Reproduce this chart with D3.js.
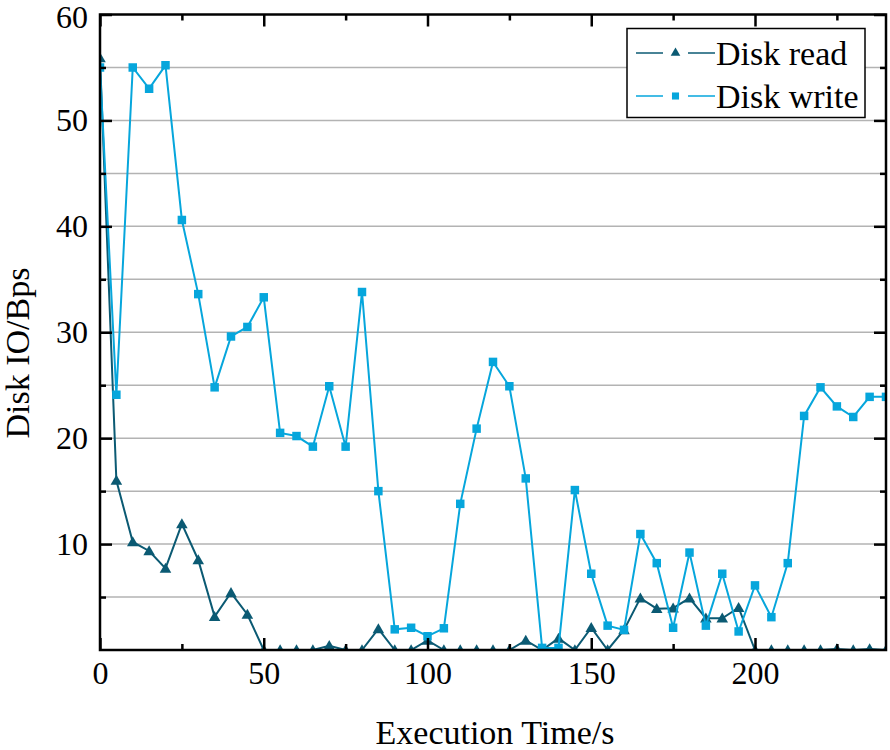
<!DOCTYPE html>
<html>
<head>
<meta charset="utf-8">
<script src="https://cdn.jsdelivr.net/npm/d3@7"></script>
<style>
  html, body { margin: 0; padding: 0; background: #fff; }
  svg { display: block; }
  text { font-family: "Liberation Serif", "Times New Roman", serif; fill: #000; }
</style>
</head>
<body>
<svg id="chart" width="890" height="750"></svg>
<script>
// ---- data ----
const times = [0,5,10,15,20,25,30,35,40,45,50,55,60,65,70,75,80,85,90,95,100,105,110,115,120,125,130,135,140,145,150,155,160,165,170,175,180,185,190,195,200,205,210,215,220,225,230,235,240];
const diskRead = [55.9,16.0,10.2,9.35,7.7,11.9,8.5,3.15,5.4,3.35,0,0,0,0,0.4,0,0,2.0,0,0,0.9,0,0,0,0,0,0.9,0,1.1,0,2.1,0,1.9,4.9,3.9,3.95,4.9,3.0,3.0,4.0,0,0,0,0,0,0.1,0,0.1,0];
const diskWrite = [55.0,24.1,55.0,53.0,55.2,40.6,33.6,24.8,29.6,30.5,33.3,20.5,20.2,19.2,24.9,19.2,33.8,15.0,1.95,2.1,1.3,2.05,13.8,20.9,27.2,24.9,16.2,0.2,0.2,15.1,7.2,2.3,1.9,10.95,8.2,2.1,9.2,2.3,7.2,1.75,6.1,3.1,8.2,22.1,24.8,23.0,22.0,23.9,23.9];
const seriesNames = ["Disk read", "Disk write"];
const xMajorTicks = [0,50,100,150,200];
const xMinorTicks = [25,75,125,175,225];
const yMajorTicks = [10,20,30,40,50,60];
const yMinorTicks = [5,15,25,35,45,55];
const gridValues = [5,10,15,20,25,30,35,40,45,50,55];
const xTitle = "Execution Time/s";
const yTitle = "Disk IO/Bps";

// ---- layout ----
const L = 100, R = 886, T = 14.5, B = 650;
const readColor = "#0b5a73", writeColor = "#06a6dc";
const svg = d3.select("#chart");
svg.append("rect").attr("width", 890).attr("height", 750).attr("fill", "#fff");

const x = d3.scaleLinear().domain([0, 240]).range([L, R]);
const y = d3.scaleLinear().domain([0, 60]).range([B, T]);

// grid
svg.append("g").selectAll("line").data(gridValues).join("line")
  .attr("x1", L).attr("x2", R)
  .attr("y1", d => y(d)).attr("y2", d => y(d))
  .attr("stroke", "#b3b3b3").attr("stroke-width", 1.5);

// clip
svg.append("clipPath").attr("id", "plotclip").append("rect")
  .attr("x", L).attr("y", T).attr("width", R - L).attr("height", B - T);

const plot = svg.append("g").attr("clip-path", "url(#plotclip)");
const line = d3.line().x((d, i) => x(times[i])).y(d => y(d));

const triPath = d3.symbol().type(d3.symbolTriangle).size(58)();
const sqPath = d3.symbol().type(d3.symbolSquare).size(72)();

// read series
plot.append("path").datum(diskRead).attr("d", line)
  .attr("fill", "none").attr("stroke", readColor).attr("stroke-width", 2);
plot.append("g").selectAll("path").data(diskRead).join("path")
  .attr("d", triPath)
  .attr("transform", (d, i) => `translate(${x(times[i])},${y(d) + 1})`)
  .attr("fill", readColor);

// write series
plot.append("path").datum(diskWrite).attr("d", line)
  .attr("fill", "none").attr("stroke", writeColor).attr("stroke-width", 2);
plot.append("g").selectAll("path").data(diskWrite).join("path")
  .attr("d", sqPath)
  .attr("transform", (d, i) => `translate(${x(times[i])},${y(d)})`)
  .attr("fill", writeColor);

// axes
const fontSize = 32;
function styleAxis(g) {
  g.select(".domain").remove();
  g.selectAll(".tick line").attr("stroke", "#000").attr("stroke-width", 2.5);
  g.selectAll("text").style("font-family", '"Liberation Serif", serif').style("font-size", fontSize + "px").attr("fill", "#000");
}
// bottom
svg.append("g").attr("transform", `translate(0,${B})`)
  .call(d3.axisBottom(x).tickValues(xMajorTicks).tickSize(-12).tickPadding(11).tickFormat(d3.format("d")))
  .call(styleAxis);
svg.append("g").attr("transform", `translate(0,${B})`)
  .call(d3.axisBottom(x).tickValues(xMinorTicks).tickSize(-6).tickFormat(""))
  .call(styleAxis);
// top
svg.append("g").attr("transform", `translate(0,${T})`)
  .call(d3.axisTop(x).tickValues(xMajorTicks).tickSize(-12).tickFormat(""))
  .call(styleAxis);
svg.append("g").attr("transform", `translate(0,${T})`)
  .call(d3.axisTop(x).tickValues(xMinorTicks).tickSize(-6).tickFormat(""))
  .call(styleAxis);
// left
const leftAxis = svg.append("g").attr("transform", `translate(${L},0)`)
  .call(d3.axisLeft(y).tickValues(yMajorTicks).tickSize(-12).tickPadding(12).tickFormat(d3.format("d")))
  .call(styleAxis);
// keep the top label inside the picture
leftAxis.selectAll(".tick text").filter(d => d === 60).attr("y", 3);
svg.append("g").attr("transform", `translate(${L},0)`)
  .call(d3.axisLeft(y).tickValues(yMinorTicks).tickSize(-6).tickFormat(""))
  .call(styleAxis);
// right
svg.append("g").attr("transform", `translate(${R},0)`)
  .call(d3.axisRight(y).tickValues(yMajorTicks).tickSize(-12).tickFormat(""))
  .call(styleAxis);
svg.append("g").attr("transform", `translate(${R},0)`)
  .call(d3.axisRight(y).tickValues(yMinorTicks).tickSize(-6).tickFormat(""))
  .call(styleAxis);

// frame
svg.append("rect").attr("x", L).attr("y", T).attr("width", R - L).attr("height", B - T)
  .attr("fill", "none").attr("stroke", "#000").attr("stroke-width", 2.5);

// titles
svg.append("text").attr("x", (L + R) / 2 + 2).attr("y", 744).attr("text-anchor", "middle")
  .style("font-size", "34px").text(xTitle);
svg.append("text").attr("transform", `translate(29,353) rotate(-90)`).attr("text-anchor", "middle")
  .style("font-size", "34px").text(yTitle);

// legend
const lg = svg.append("g");
lg.append("rect").attr("x", 627).attr("y", 28.5).attr("width", 238).attr("height", 89)
  .attr("fill", "#fff").attr("stroke", "#000").attr("stroke-width", 1.5);
const legendItems = [
  { name: seriesNames[0], color: readColor, marker: d3.symbol().type(d3.symbolTriangle).size(40)(), cy: 53 },
  { name: seriesNames[1], color: writeColor, marker: d3.symbol().type(d3.symbolSquare).size(50)(), cy: 96 }
];
legendItems.forEach(it => {
  lg.append("line").attr("x1", 636).attr("x2", 663).attr("y1", it.cy).attr("y2", it.cy)
    .attr("stroke", it.color).attr("stroke-width", 1.5);
  lg.append("line").attr("x1", 688).attr("x2", 715).attr("y1", it.cy).attr("y2", it.cy)
    .attr("stroke", it.color).attr("stroke-width", 1.5);
  lg.append("path").attr("d", it.marker).attr("transform", `translate(675.5,${it.cy})`).attr("fill", it.color);
  lg.append("text").attr("x", 716).attr("y", it.cy + 12).style("font-size", "34px").text(it.name);
});
</script>
</body>
</html>
